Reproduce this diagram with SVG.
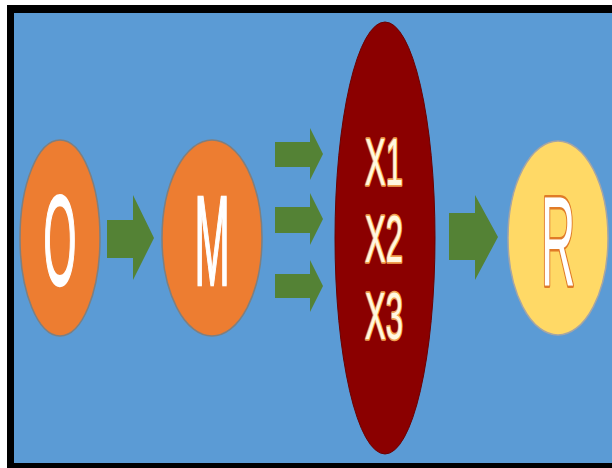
<svg xmlns="http://www.w3.org/2000/svg" width="612" height="468" viewBox="0 0 612 468">
<defs>
<style>
.lbl{font-family:"Liberation Sans",Arial,sans-serif;text-anchor:middle;}
.big{font-size:128px;}
.x{font-size:66px;fill:#FFF8E0;stroke:#F0A050;stroke-width:3.5;paint-order:stroke;stroke-linejoin:round;}
.arrow{fill:#548235;}
</style>
</defs>
<rect x="0" y="0" width="612" height="468" fill="#FFFFFF"/>
<rect x="7" y="5" width="605" height="463" fill="#000000"/>
<rect x="14" y="13" width="598" height="450" fill="#5B9BD5"/>
<g id="connectors">
<polygon class="arrow" points="107,220 133,220 133,195 154,238 133,280 133,258 107,258"/>
<polygon class="arrow" points="275,142 310,142 310,128 323,154 310,180 310,167 275,167"/>
<polygon class="arrow" points="275,207 310,207 310,193 323,219 310,245 310,233 275,233"/>
<polygon class="arrow" points="275,274 310,274 310,260 323,286 310,312 310,298 275,298"/>
<polygon class="arrow" points="449,213 475,213 475,195 498,237 475,280 475,260 449,260"/>
</g>
<g id="node-O">
<ellipse cx="60" cy="238" rx="40" ry="98" fill="#ED7D31" stroke="#7F7F7F" stroke-width="1.5"/>
<text class="lbl big" transform="translate(60,285) scale(0.33,1)" fill="#FFFFFF" stroke="#FFFFFF" stroke-width="2.5">O</text>
</g>
<g id="node-M">
<ellipse cx="212" cy="238" rx="50" ry="98" fill="#ED7D31" stroke="#7F7F7F" stroke-width="1.5"/>
<text class="lbl big" transform="translate(212,285) scale(0.33,1)" fill="#FFFFFF" stroke="#FFFFFF" stroke-width="2.5">M</text>
</g>
<g id="node-X">
<ellipse cx="385" cy="238" rx="50" ry="216" fill="#8B0000" stroke="#6B0000" stroke-width="1"/>
<text class="lbl x" transform="translate(384,185) scale(0.47,1)">X1</text>
<text class="lbl x" transform="translate(384,262) scale(0.47,1)">X2</text>
<text class="lbl x" transform="translate(384,339) scale(0.47,1)">X3</text>
</g>
<g id="node-R">
<ellipse cx="558" cy="238" rx="50" ry="97" fill="#FFD966" stroke="#A5A5A5" stroke-width="1.5"/>
<text class="lbl big" transform="translate(558,286) scale(0.37,1)" fill="#FFFFFF" stroke="#E07B28" stroke-width="5" paint-order="stroke" stroke-linejoin="round">R</text>
</g>
</svg>
